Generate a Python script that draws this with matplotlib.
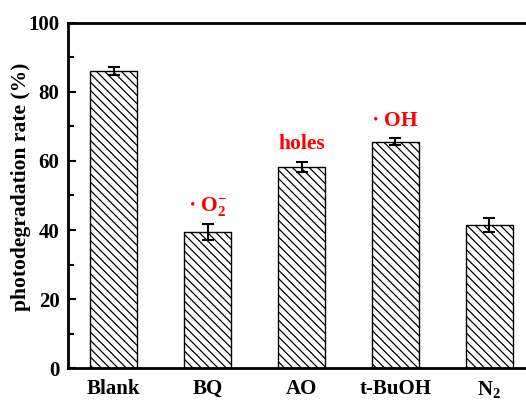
import matplotlib
matplotlib.use("Agg")
import matplotlib.pyplot as plt
import numpy as np

categories = ['Blank', 'BQ', 'AO', 't-BuOH', r'N$_2$']
rates = [86.0, 39.5, 58.3, 65.6, 41.5]
errors = [1.2, 2.3, 1.5, 1.1, 2.1]
species = [None, r'$\bullet\ \mathbf{O_2^{-}}$', 'holes', r'$\bullet\ \mathbf{OH}$', None]

plt.rcParams['font.family'] = 'Liberation Serif'
plt.rcParams['font.weight'] = 'bold'
plt.rcParams['mathtext.fontset'] = 'custom'
plt.rcParams['mathtext.rm'] = 'Liberation Serif:bold'
plt.rcParams['mathtext.bf'] = 'Liberation Serif:bold'
plt.rcParams['mathtext.it'] = 'Liberation Serif:bold'
plt.rcParams['hatch.linewidth'] = 0.9
plt.rcParams['hatch.color'] = '#808080'

fig = plt.figure(figsize=(5.26, 4.01), dpi=100)
ax = fig.add_axes([0.129, 0.082, 0.885, 0.861])

x = np.arange(len(categories))
ax.bar(x, rates, width=0.5, color='white', edgecolor='black', linewidth=1.0,
       hatch='\\\\\\\\', zorder=2)
ax.errorbar(x, rates, yerr=errors, fmt='none', ecolor='black', elinewidth=1.5,
            capsize=4.5, capthick=1.5, zorder=3)

for i, s in enumerate(species):
    if s is None:
        continue
    ax.text(x[i], rates[i] + errors[i] + 5, s, color='red', fontsize=15.5,
            fontweight='bold', ha='center', va='center')

ax.set_xlim(-0.49, 4.47)
ax.set_ylim(0, 100)
ax.set_xticks(x)
ax.set_xticklabels(categories, fontsize=15, fontweight='bold')
ax.set_yticks([0, 20, 40, 60, 80, 100])
ax.set_yticks([10, 30, 50, 70, 90], minor=True)
ax.tick_params(axis='y', direction='in', length=6, width=1.5, labelsize=15, pad=6)
ax.tick_params(axis='y', which='minor', direction='in', length=4, width=1.5)
ax.tick_params(axis='x', length=0, pad=8)
ax.set_ylabel('photodegradation rate (%)', fontsize=15.5, fontweight='bold')
ax.yaxis.set_label_coords(-0.08, 0.525)
for sp in ax.spines.values():
    sp.set_linewidth(2)

fig.savefig('out.png', dpi=100)
